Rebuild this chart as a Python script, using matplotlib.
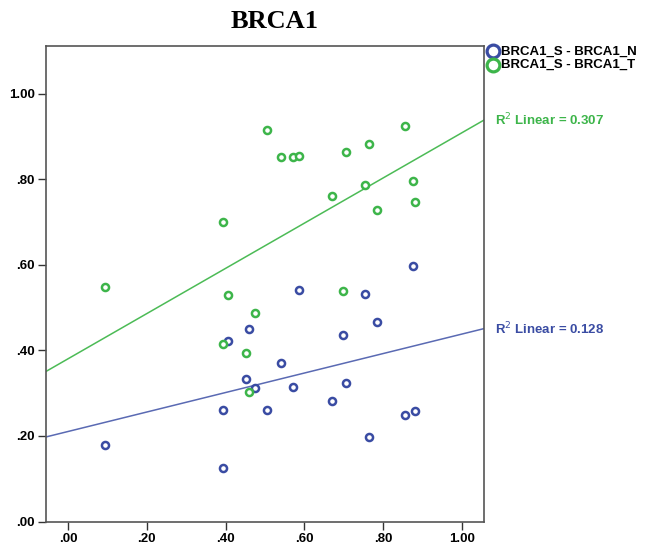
import numpy as np
import matplotlib
matplotlib.use("Agg")
import matplotlib.pyplot as plt

# x values (shared) and the two y series
x_vals = [0.093, 0.393, 0.394, 0.406, 0.453, 0.460, 0.475, 0.506, 0.540, 0.571,
          0.587, 0.670, 0.697, 0.705, 0.754, 0.764, 0.784, 0.856, 0.875, 0.880]
y_normal = [0.180, 0.260, 0.125, 0.423, 0.333, 0.449, 0.312, 0.260, 0.371, 0.314,
            0.542, 0.282, 0.435, 0.324, 0.533, 0.197, 0.467, 0.248, 0.597, 0.259]
y_tumor = [0.548, 0.414, 0.700, 0.529, 0.395, 0.302, 0.488, 0.914, 0.851, 0.852,
           0.854, 0.760, 0.540, 0.864, 0.787, 0.882, 0.728, 0.925, 0.795, 0.747]

series_names = ["BRCA1_S - BRCA1_N", "BRCA1_S - BRCA1_T"]
fit_labels = ["0.128", "0.307"]
x_ticks = [0.0, 0.2, 0.4, 0.6, 0.8, 1.0]
y_ticks = [0.0, 0.2, 0.4, 0.6, 0.8, 1.0]

blue = "#3a4ca3"
green = "#3db54a"
blue_line = "#5a6ab3"
green_line = "#4cbb56"

narrow = ["Liberation Sans Narrow", "Liberation Sans", "DejaVu Sans"]

fig = plt.figure(figsize=(6.53, 5.45), dpi=100)
ax = fig.add_axes([0.0705, 0.043, 0.6705, 0.873])

xlim = (-0.056, 1.056)
ylim = (0.0, 1.112)

xs = np.array(x_vals)
for ys, col, lcol, lab, r2 in [(y_normal, blue, blue_line, series_names[0], fit_labels[0]),
                                (y_tumor, green, green_line, series_names[1], fit_labels[1])]:
    ys = np.array(ys)
    k, b = np.polyfit(xs, ys, 1)
    lx = np.array(xlim)
    ax.plot(lx, k * lx + b, color=lcol, lw=1.1, zorder=1)
    ax.scatter(xs, ys, s=26, facecolors="white", edgecolors=col, linewidths=1.8,
               label=lab, zorder=3)
    ax.text(1.025, (k * xlim[1] + b - ylim[0]) / (ylim[1] - ylim[0]),
            r"R$^2$ Linear = " + r2, transform=ax.transAxes, color=col,
            fontsize=9.5, fontweight="bold", family=narrow, va="center", ha="left")

ax.set_xlim(*xlim)
ax.set_ylim(*ylim)
ax.set_xticks(x_ticks)
ax.set_yticks(y_ticks)
ax.set_xticklabels(["%.2f" % v if v >= 1 else ("%.2f" % v)[1:] for v in x_ticks])
ax.set_yticklabels(["%.2f" % v if v >= 1 else ("%.2f" % v)[1:] for v in y_ticks])
for lbl in ax.get_xticklabels() + ax.get_yticklabels():
    lbl.set_family(narrow)
    lbl.set_fontweight("bold")
    lbl.set_fontsize(9.5)
ax.tick_params(direction="out", length=6, width=1, color="#333333", pad=2)
for sp in ax.spines.values():
    sp.set_color("#555555")
    sp.set_linewidth(1.2)

leg = ax.legend(loc="upper left", bbox_to_anchor=(0.99, 1.012), frameon=False,
                handletextpad=0.05, borderaxespad=0, labelspacing=0.1,
                handlelength=1.2, prop={"family": narrow, "weight": "bold", "size": 9.5},
                scatterpoints=1, markerscale=1.8)
for h in leg.legend_handles:
    h.set_linewidth(2.3)

fig.text(0.421, 0.96, "BRCA1", ha="center", va="center",
         family=["Liberation Serif", "DejaVu Serif"], fontweight="bold", fontsize=19)

fig.savefig("out.png", dpi=100)
